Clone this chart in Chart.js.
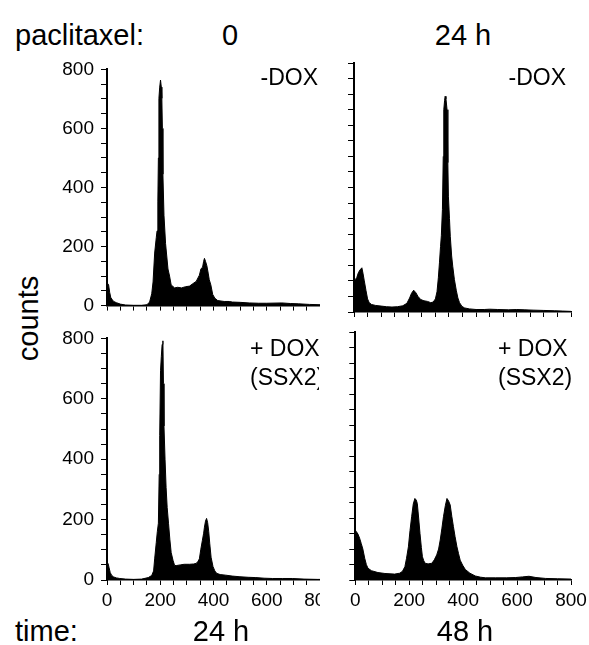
<!DOCTYPE html>
<html>
<head>
<meta charset="utf-8">
<script src="https://cdn.jsdelivr.net/npm/chart.js@4"></script>
<style>
  body { margin: 0; background: #fff; font-family: Arial, "Liberation Sans", sans-serif; color: #000; }
  #page { position: relative; width: 589px; height: 645px; overflow: hidden; }
  canvas { position: absolute; left: 0; top: 0; }
  .wrap { position: absolute; overflow: hidden; }
  .lbl { position: absolute; font-size: 29px; line-height: 29px; white-space: nowrap; }
  .ann { position: absolute; font-size: 23px; line-height: 29px; white-space: nowrap; }
</style>
</head>
<body>
<div id="page">
  <div class="lbl" style="left:15px; top:21px;">paclitaxel:</div>
  <div class="lbl" style="left:215px; top:21px; width:30px; text-align:center;">0</div>
  <div class="lbl" style="left:423px; top:21px; width:80px; text-align:center;">24 h</div>

  <div class="lbl" style="left:-17px; top:304px; width:90px; text-align:center; transform: rotate(-90deg);">counts</div>

  <div class="wrap" style="left:50px; top:51px; width:270px; height:273px;"><canvas id="tl" width="300" height="273"></canvas></div>
  <div class="wrap" style="left:346px; top:51px; width:243px; height:273px;"><canvas id="tr" width="250" height="273"></canvas></div>
  <div class="wrap" style="left:50px; top:320px; width:270px; height:292px;"><canvas id="bl" width="300" height="292"></canvas></div>
  <div class="wrap" style="left:346px; top:320px; width:243px; height:292px;"><canvas id="br" width="250" height="292"></canvas></div>

  <div class="ann" style="left:200px; top:63px; width:118px; text-align:right;">-DOX</div>
  <div class="ann" style="left:446px; top:63px; width:120px; text-align:right;">-DOX</div>
  <div class="wrap" style="left:240px; top:330px; width:79px; height:70px;">
    <div class="ann" style="left:10px; top:4px;">+ DOX<br>(SSX2)</div>
  </div>
  <div class="ann" style="left:498px; top:334px;">+ DOX<br>(SSX2)</div>

  <div class="lbl" style="left:15px; top:617px;">time:</div>
  <div class="lbl" style="left:181px; top:617px; width:80px; text-align:center;">24 h</div>
  <div class="lbl" style="left:425px; top:617px; width:80px; text-align:center;">48 h</div>
</div>

<script>
// DNA content (channel) vs counts
const tlX = [0, 3, 6, 10, 14, 18, 25, 35, 50, 70, 100, 130, 150, 160, 168, 173, 179, 185, 188, 191, 193, 195, 198, 201, 204, 206, 208, 210, 214, 220, 229, 235, 241, 254, 265, 280, 295, 310, 322, 335, 347, 353, 359, 363, 366, 370, 375, 380, 384, 390, 397, 405, 416, 440, 459, 471, 500, 534, 570, 600, 657, 690, 720, 760, 800];
const tlY = [70, 74, 70, 45, 28, 22, 14, 10, 5, 2, 1, 1, 3, 12, 40, 80, 178, 230, 253, 354, 500, 702, 740, 764, 740, 702, 600, 445, 306, 210, 124, 100, 70, 60, 62, 60, 64, 66, 74, 82, 103, 125, 130, 150, 160, 150, 135, 110, 88, 70, 38, 25, 17, 14, 14, 12, 11, 9, 8, 8, 9, 7, 6, 4, 3];

const trX = [0, 4, 10, 16, 22, 29, 33, 38, 44, 50, 56, 65, 80, 100, 120, 140, 160, 180, 195, 205, 212, 220, 228, 236, 246, 258, 271, 283, 292, 300, 306, 311, 315, 319, 322, 326, 329, 331, 334, 336, 339, 343, 346, 348, 352, 355, 360, 364, 370, 377, 383, 389, 398, 408, 425, 450, 480, 500, 530, 570, 600, 630, 660, 700, 740, 770, 800];
const trY = [100, 104, 110, 126, 135, 142, 125, 100, 70, 42, 30, 24, 21, 19, 17, 16, 17, 20, 28, 45, 60, 70, 62, 50, 40, 36, 34, 30, 32, 42, 65, 110, 158, 210, 245, 330, 500, 650, 680, 693, 685, 650, 480, 372, 300, 243, 180, 147, 105, 70, 45, 30, 18, 13, 10, 8, 8, 9, 8, 7, 8, 7, 6, 5, 4, 3, 2];

const blX = [0, 4, 8, 12, 17, 25, 35, 48, 70, 100, 130, 155, 168, 175, 179, 185, 189, 193, 196, 198, 201, 204, 207, 210, 212, 214, 218, 222, 226, 231, 236, 241, 248, 254, 262, 275, 290, 310, 325, 335, 342, 347, 352, 358, 363, 366, 370, 374, 378, 382, 386, 391, 398, 405, 412, 425, 446, 470, 496, 530, 559, 590, 621, 660, 696, 740, 790, 800];
const blY = [55, 55, 40, 25, 16, 10, 7, 5, 3, 2, 3, 8, 15, 30, 70, 124, 160, 188, 350, 478, 693, 740, 780, 792, 650, 510, 400, 306, 240, 188, 135, 91, 65, 48, 48, 50, 52, 52, 53, 55, 62, 70, 100, 130, 155, 175, 195, 204, 190, 161, 120, 75, 45, 30, 22, 18, 16, 13, 11, 9, 8, 6, 5, 5, 5, 3, 2, 2];

const brX = [0, 4, 10, 16, 22, 28, 35, 41, 47, 60, 84, 110, 146, 165, 175, 184, 190, 197, 203, 209, 215, 221, 226, 230, 235, 240, 245, 249, 254, 259, 270, 284, 293, 302, 309, 315, 321, 327, 334, 340, 346, 352, 358, 364, 370, 377, 383, 389, 398, 408, 425, 445, 465, 483, 520, 560, 595, 620, 644, 670, 706, 750, 800];
const brY = [161, 156, 148, 135, 118, 100, 70, 50, 38, 30, 24, 21, 19, 22, 28, 43, 70, 107, 160, 204, 245, 263, 258, 247, 200, 150, 105, 75, 62, 54, 52, 54, 65, 81, 100, 129, 165, 204, 240, 263, 255, 242, 205, 172, 140, 107, 85, 64, 48, 34, 22, 13, 9, 7, 7, 7, 8, 10, 12, 8, 5, 4, 3];

const yTicks = [0, 200, 400, 600, 800];
const xTicks = [0, 200, 400, 600, 800];

const fontTicks = { family: 'Arial, "Liberation Sans", sans-serif', size: 19 };

function makePanel(id, xs, ys, showX, showY) {
    const points = xs.map((x, i) => ({ x: x, y: ys[i] }));
    const config = {
        type: 'line',
        data: {
            datasets: [{
                data: points,
                fill: 'origin',
                backgroundColor: '#000',
                borderColor: '#000',
                borderWidth: 1,
                pointRadius: 0,
                tension: 0
            }]
        },
        options: {
            responsive: false,
            animation: false,
            layout: {
                autoPadding: false,
                padding: { top: 12, right: showY ? 30 : 25, bottom: showX ? 0 : 4, left: 0 }
            },
            plugins: { legend: { display: false }, tooltip: { enabled: false } },
            scales: {
                x: {
                    type: 'linear', min: 0, max: 800,
                    ticks: {
                        stepSize: 50, display: showX, autoSkip: false, maxRotation: 0,
                        color: '#000', font: fontTicks, padding: 4,
                        callback: v => xTicks.includes(v) ? v : ''
                    },
                    grid: { drawOnChartArea: false, tickLength: 5, tickColor: '#000', tickWidth: 1 },
                    border: { color: '#000', width: 1.5 },
                    afterFit: s => { s.height = showX ? 32 : 8; }
                },
                y: {
                    min: 0, max: 800,
                    ticks: {
                        stepSize: 50, display: showY, autoSkip: false,
                        color: '#000', font: fontTicks, padding: 7,
                        callback: v => yTicks.includes(v) ? v : ''
                    },
                    grid: { drawOnChartArea: false, tickLength: 6, tickColor: '#000', tickWidth: 1 },
                    border: { color: '#000', width: 2 },
                    afterFit: s => { s.width = showY ? 57 : 8; }
                }
            }
        }
    };
    new Chart(document.getElementById(id), config);
}

makePanel('tl', tlX, tlY, false, true);
makePanel('tr', trX, trY, false, false);
makePanel('bl', blX, blY, true, true);
makePanel('br', brX, brY, true, false);
</script>
</body>
</html>
